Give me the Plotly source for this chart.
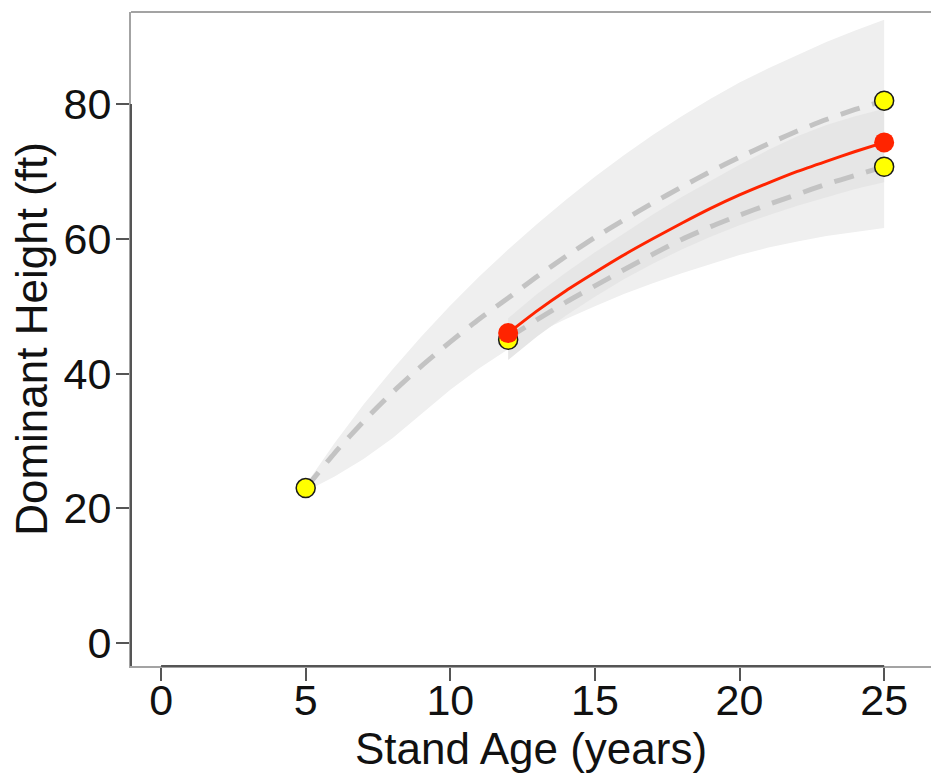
import plotly.graph_objects as go

# Stand age axis for the full projection (years) and heights (ft)
age_full = [5, 6, 7, 8, 9, 10, 11, 12, 13, 14, 15, 16, 17, 18, 19, 20, 21, 22, 23, 24, 25]
curve_from_age5 = [23.0, 28.2, 32.9, 37.2, 41.1, 44.7, 48.1, 51.2, 54.4, 57.4, 60.2,
                   62.8, 65.3, 67.7, 70.0, 72.1, 74.1, 76.0, 77.7, 79.2, 80.5]
outer_hi = [23.5, 29.7, 35.4, 40.6, 45.5, 50.1, 54.4, 58.4, 62.2, 65.8, 69.2,
            72.4, 75.4, 78.2, 80.8, 83.2, 85.3, 87.3, 89.2, 90.9, 92.5]
outer_lo = [22.5, 24.7, 27.3, 30.4, 34.0, 37.6, 40.8, 43.6, 46.0, 48.1, 50.0,
            51.8, 53.4, 54.9, 56.3, 57.6, 58.7, 59.6, 60.4, 61.0, 61.6]

# Projection from the age-12 measurement
age_proj = [12, 13, 14, 15, 16, 17, 18, 19, 20, 21, 22, 23, 24, 25]
curve_from_age12 = [45.3, 48.0, 50.6, 53.0, 55.4, 57.7, 59.9, 61.8, 63.5, 65.1, 66.6, 68.1, 69.4, 70.7]
predicted = [46.0, 49.3, 52.3, 55.0, 57.6, 60.0, 62.3, 64.5, 66.5, 68.3, 70.0, 71.5, 72.95, 74.3]
inner_hi = [48.2, 51.8, 55.0, 58.0, 60.8, 63.6, 66.2, 68.6, 71.0, 73.2, 75.2, 76.9, 78.2, 79.3]
inner_lo = [42.0, 45.5, 48.6, 51.4, 54.0, 56.3, 58.4, 60.3, 62.0, 63.5, 64.9, 66.2, 67.4, 68.4]

# Observed and predicted points
obs_age = [5, 12, 25, 25]
obs_height = [23.0, 45.0, 80.5, 70.7]
pred_age = [12, 25]
pred_height = [46.0, 74.3]

x_ticks = [0, 5, 10, 15, 20, 25]
y_ticks = [0, 20, 40, 60, 80]

FONT = "Liberation Sans, Arial, sans-serif"
DASH_COLOR = "#c3c3c3"
RED = "#ff2400"

fig = go.Figure()

# Wide uncertainty band
fig.add_trace(go.Scatter(
    x=age_full + age_full[::-1], y=outer_hi + outer_lo[::-1],
    fill="toself", fillcolor="#efefef", line=dict(width=0),
    mode="lines", hoverinfo="skip"))

# Narrow band around the projection
fig.add_trace(go.Scatter(
    x=age_proj + age_proj[::-1], y=inner_hi + inner_lo[::-1],
    fill="toself", fillcolor="#e6e6e6", line=dict(width=0),
    mode="lines", hoverinfo="skip"))

# Dashed growth curves
fig.add_trace(go.Scatter(
    x=age_full, y=curve_from_age5, mode="lines",
    line=dict(color=DASH_COLOR, width=5, dash="20px,13px", shape="spline", smoothing=0.6)))
fig.add_trace(go.Scatter(
    x=age_proj, y=curve_from_age12, mode="lines",
    line=dict(color=DASH_COLOR, width=5, dash="20px,13px", shape="spline", smoothing=0.6)))

# Predicted growth
fig.add_trace(go.Scatter(
    x=age_proj, y=predicted, mode="lines",
    line=dict(color=RED, width=3, shape="spline", smoothing=0.6)))

# Observed heights
fig.add_trace(go.Scatter(
    x=obs_age, y=obs_height, mode="markers",
    marker=dict(size=19, color="#ffff00", line=dict(color="#1a1a1a", width=1.5))))

# Predicted heights
fig.add_trace(go.Scatter(
    x=pred_age, y=pred_height, mode="markers",
    marker=dict(size=20, color=RED, line=dict(width=0))))

axis_common = dict(
    showgrid=False, zeroline=False, showline=True, linecolor="#a3a3a3", linewidth=2,
    ticks="outside", ticklen=13, tickwidth=1.5, tickcolor="#555555",
    tickfont=dict(family=FONT, size=43, color="#111111"),
)

fig.update_layout(
    width=931, height=775,
    margin=dict(l=131, r=0, t=12, b=109),
    paper_bgcolor="white", plot_bgcolor="white",
    showlegend=False,
    font=dict(family=FONT, color="#111111"),
    xaxis=dict(range=[-1.04, 26.62], tickvals=x_ticks, ticktext=[str(v) for v in x_ticks],
               ticklabelstandoff=-18,
               title=dict(text="Stand Age (years)", font=dict(family=FONT, size=44), standoff=2),
               **axis_common),
    yaxis=dict(range=[-3.41, 93.66], tickvals=y_ticks, ticktext=[str(v) for v in y_ticks],
               ticklabelstandoff=-4,
               title=dict(text="Dominant Height (ft)", font=dict(family=FONT, size=44), standoff=2),
               **axis_common),
    shapes=[
        # top edge of the frame
        dict(type="line", xref="paper", yref="paper", x0=0, x1=1, y0=1, y1=1,
             line=dict(color="#a3a3a3", width=2)),
        # darker axis lines spanning the tick range
        dict(type="line", xref="paper", yref="y", x0=0, x1=0, y0=-3.41, y1=80,
             line=dict(color="#555555", width=2)),
        dict(type="line", xref="x", yref="paper", x0=0, x1=25, y0=0, y1=0,
             line=dict(color="#555555", width=2)),
    ],
)

fig.write_html("out.html")
